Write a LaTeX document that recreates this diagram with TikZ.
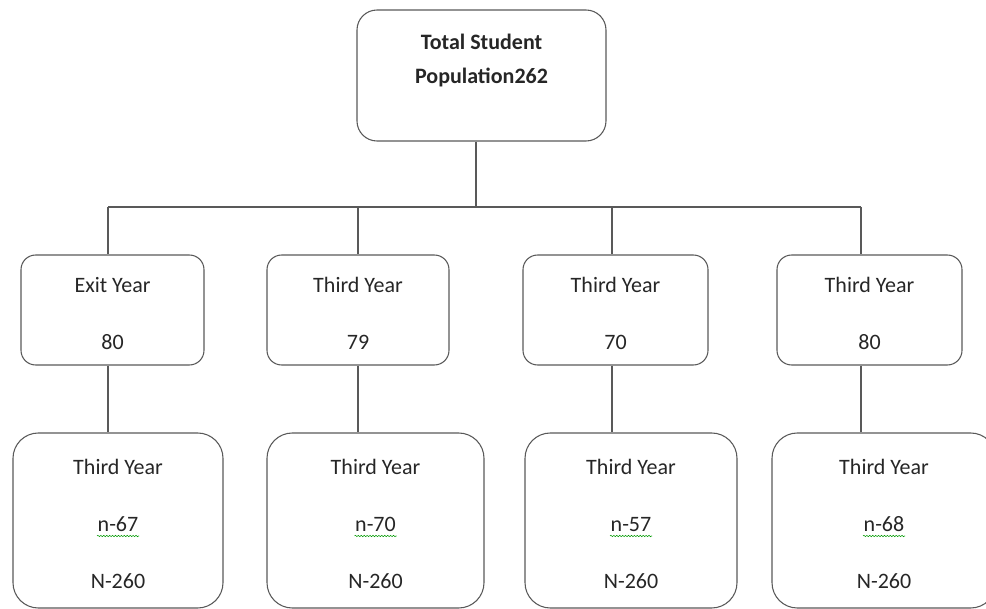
\documentclass[tikz,border=0pt]{standalone}
\usepackage{fontspec}
\setmainfont{Carlito}
\usetikzlibrary{decorations.pathmorphing}

\tikzset{
  box/.style={draw=black!65, line width=0.8pt, align=center, inner sep=0pt,
    text=black!85, font=\fontsize{16.5}{42.75}\selectfont},
  topbox/.style={box, rounded corners=15pt, minimum width=186.75pt, minimum height=98.25pt,
    font=\fontsize{16.5}{25.5}\selectfont\bfseries},
  midbox/.style={box, rounded corners=11pt, minimum height=82.5pt},
  lowbox/.style={box, rounded corners=19pt, minimum height=131.25pt},
  wire/.style={draw=black!65, line width=0.8pt},
  spell/.style={draw=green!60!black, line width=0.4pt, decorate,
    decoration={snake, amplitude=0.5pt, segment length=2.2pt}}
}
\newcommand\uplift{\rule{0pt}{17pt}}

\begin{document}
\begin{tikzpicture}[x=0.75pt,y=-0.75pt]
  \useasboundingbox (0,0) rectangle (986,609);
  \node[topbox] (total) at (481.5,75.5) {Total Student\\Population262\\\mbox{}};
  \coordinate (hub) at (476,207);
  \draw[wire] (hub |- total.south) -- (hub);
  % the four branches
  \foreach \i/\bx/\mx/\mw/\lx/\lw/\head/\num/\sub in
    {1/108/112.5/137.25pt/118/157.5pt/Exit Year/80/n-67,
     2/358/358/136.5pt/375.5/162.75pt/Third Year/79/n-70,
     3/612/615.5/138.75pt/631/159pt/Third Year/70/n-57,
     4/861/869.5/138.75pt/884/168pt/Third Year/80/n-68}
  {
    \coordinate (bus\i) at (\bx,207);
    \node[midbox, minimum width=\mw] (mid\i) at (\mx,310) {\uplift\head\\\num};
    \node[lowbox, minimum width=\lw] (low\i) at (\lx,520.5) {\uplift Third Year\\\sub\\N-260};
    \draw[wire] (bus\i) -- (bus\i |- mid\i.north);
    \draw[wire] (bus\i |- mid\i.south) -- (bus\i |- low\i.north);
    \draw[spell] (low\i.center) ++(-21,15.5) -- ++(42,0);
  }
  \draw[wire] (bus1) -- (bus4);
\end{tikzpicture}
\end{document}
